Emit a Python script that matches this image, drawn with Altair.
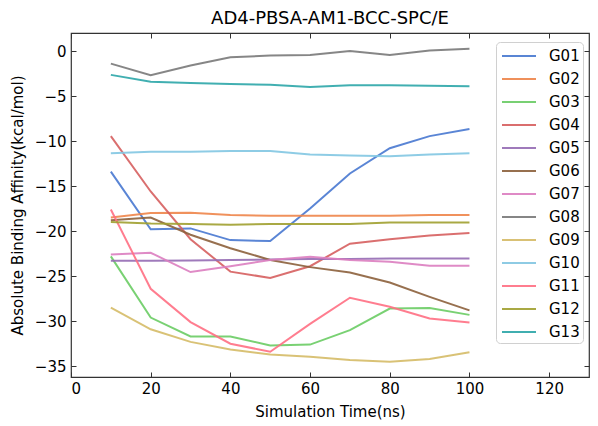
import altair as alt
import pandas as pd

times = [10, 20, 30, 40, 50, 60, 70, 80, 90, 100]
groups = ["G01", "G02", "G03", "G04", "G05", "G06", "G07", "G08", "G09", "G10", "G11", "G12", "G13"]

G01 = [-13.4, -19.8, -19.7, -21.0, -21.1, -17.5, -13.6, -10.8, -9.45, -8.65]
G02 = [-18.5, -18.0, -17.95, -18.2, -18.3, -18.3, -18.3, -18.3, -18.2, -18.2]
G03 = [-22.8, -29.6, -31.7, -31.7, -32.7, -32.6, -31.0, -28.6, -28.55, -29.3]
G04 = [-9.45, -15.6, -20.9, -24.5, -25.2, -23.9, -21.4, -20.9, -20.5, -20.2]
G05 = [-23.3, -23.3, -23.25, -23.2, -23.15, -23.1, -23.1, -23.05, -23.05, -23.05]
G06 = [-18.8, -18.5, -20.4, -21.9, -23.2, -24.0, -24.6, -25.7, -27.3, -28.8]
G07 = [-22.6, -22.4, -24.55, -23.9, -23.2, -22.85, -23.2, -23.4, -23.85, -23.85]
G08 = [-1.4, -2.7, -1.6, -0.7, -0.5, -0.45, 0.0, -0.45, 0.05, 0.25]
G09 = [-28.5, -30.9, -32.3, -33.15, -33.7, -33.95, -34.3, -34.5, -34.2, -33.45]
G10 = [-11.35, -11.2, -11.2, -11.1, -11.1, -11.5, -11.6, -11.7, -11.5, -11.35]
G11 = [-17.6, -26.4, -30.1, -32.5, -33.4, -30.3, -27.4, -28.4, -29.7, -30.15]
G12 = [-19.0, -19.15, -19.2, -19.3, -19.2, -19.2, -19.2, -19.05, -19.05, -19.05]
G13 = [-2.65, -3.4, -3.55, -3.65, -3.75, -4.0, -3.8, -3.8, -3.85, -3.9]

series = [G01, G02, G03, G04, G05, G06, G07, G08, G09, G10, G11, G12, G13]
colors = ["#4878D0", "#EE854A", "#6ACC64", "#D65F5F", "#956CB4", "#8C613C",
          "#DC7EC0", "#797979", "#D5BB67", "#82C6E2", "#FF6F83", "#A0A030", "#2CA6A8"]

x_ticks = [0, 20, 40, 60, 80, 100, 120]
y_ticks = [0, -5, -10, -15, -20, -25, -30, -35]

rows = []
for g, vals in zip(groups, series):
    for t, v in zip(times, vals):
        rows.append({"time": t, "value": v, "group": g})
df = pd.DataFrame(rows)

FONT = "DejaVu Sans"
x_scale = alt.Scale(domain=[0, 130], nice=False, zero=False)
y_scale = alt.Scale(domain=[-36.2, 2.0], nice=False, zero=False)

lines = alt.Chart(df).mark_line(strokeWidth=2, opacity=0.9).encode(
    x=alt.X("time:Q", scale=x_scale,
            axis=alt.Axis(orient="bottom", values=x_ticks, offset=-5, tickSize=5,
                          domain=False, grid=False, labelPadding=4, tickColor="#333333",
                          labelFontSize=15, labelFont=FONT, labelColor="black",
                          title="Simulation Time(ns)", titleFontSize=15, titleFont=FONT,
                          titleFontWeight="normal", titleColor="black", titlePadding=8)),
    y=alt.Y("value:Q", scale=y_scale,
            axis=alt.Axis(orient="left", values=y_ticks, offset=-5, tickSize=5,
                          domain=False, grid=False, labelPadding=5, tickColor="#333333",
                          labelFontSize=15, labelFont=FONT, labelColor="black",
                          title="Absolute Binding Affinity(kcal/mol)", titleFontSize=15,
                          titleFont=FONT, titleFontWeight="normal", titleColor="black",
                          titlePadding=9)),
    color=alt.Color("group:N", scale=alt.Scale(domain=groups, range=colors),
                    legend=alt.Legend(title=None, orient="none", legendX=425, legendY=9,
                                      symbolType="M-1.7,0L1.7,0", symbolSize=400,
                                      symbolStrokeWidth=2, symbolOffset=9,
                                      labelFontSize=15, labelFont=FONT, labelColor="black",
                                      labelOffset=19, rowPadding=4, padding=3,
                                      fillColor="white", strokeColor="#d0d0d0",
                                      cornerRadius=4)),
)

frame_axes = alt.Chart(df).mark_point(opacity=0).encode(
    x=alt.X("time:Q", scale=x_scale,
            axis=alt.Axis(orient="top", values=x_ticks, offset=-5, tickSize=5,
                          domain=False, grid=False, labels=False, title=None,
                          tickColor="#333333")),
    y=alt.Y("value:Q", scale=y_scale,
            axis=alt.Axis(orient="right", values=y_ticks, offset=-5, tickSize=5,
                          domain=False, grid=False, labels=False, title=None,
                          tickColor="#333333")),
)

chart = alt.layer(lines, frame_axes).resolve_axis(
    x="independent", y="independent"
).properties(
    width=518, height=344,
    title=alt.TitleParams("AD4-PBSA-AM1-BCC-SPC/E", fontSize=18, font=FONT,
                          fontWeight="normal", color="black", anchor="middle",
                          frame="group", offset=5),
    autosize=alt.AutoSizeParams(type="none"),
    padding={"left": 63, "top": 25, "right": 1, "bottom": 45},
).configure_view(stroke="#333333", strokeWidth=1.2)

chart.save("out.html", embed_options={"renderer": "svg", "actions": False})
